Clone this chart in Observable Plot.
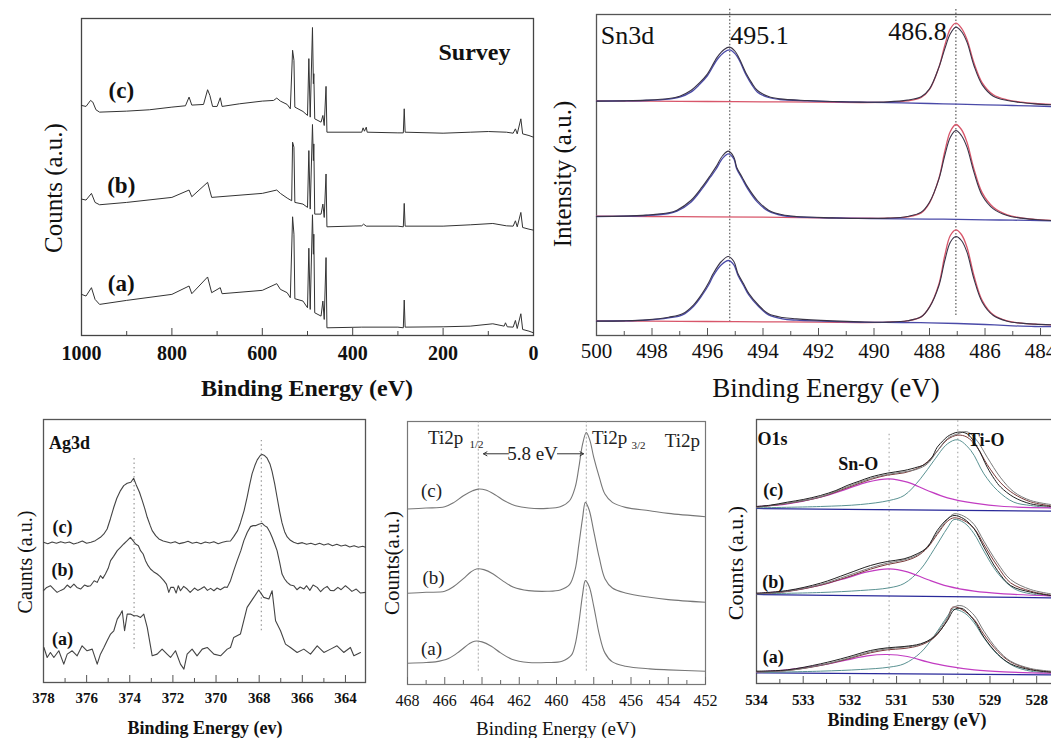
<!DOCTYPE html>
<html><head><meta charset="utf-8">
<script src="https://cdn.jsdelivr.net/npm/d3@7"></script>
<script src="https://cdn.jsdelivr.net/npm/@observablehq/plot@0.6"></script>
<style>html,body{margin:0;padding:0;overflow:hidden;background:#fff}#wrap{position:relative;width:1051px;height:738px;overflow:hidden;background:#fff}</style>
</head><body><div id="wrap"></div>
<script>
// ---------- DATA: [binding energy (eV), counts (a.u.)] ----------
// Survey
const surveyC = [[1000,688],[990,685],[980,703],[975,698],[968,675],[960,668],[900,671],[850,675],[800,683],[770,687],[762,713],[756,689],[730,691],[721,735],[716,718],[710,685],[700,685],[693,711],[689,685],[650,693],[600,701],[575,703],[568,710],[560,701],[545,691],[538,678],[533,853],[530,823],[528,683],[510,670],[500,658],[497,828],[494,653],[489,921],[487,753],[486,783],[484,648],[470,638],[466,658],[463,628],[459,745],[457,608],[380,608],[377,621],[374,611],[370,623],[368,608],[300,606],[288,606],[286,678],[284,608],[200,605],[140,608],[100,610],[60,608],[45,605],[40,618],[36,603],[28,648],[24,603],[10,598],[0,593]];
const surveyB = [[1000,408],[990,405],[978,425],[970,398],[960,391],[900,398],[800,413],[762,435],[756,415],[721,458],[712,413],[600,425],[568,435],[560,425],[545,411],[535,403],[533,578],[530,563],[528,398],[510,393],[500,383],[497,553],[494,378],[489,631],[487,523],[486,573],[484,363],[470,363],[466,393],[463,353],[459,483],[457,325],[380,328],[376,333],[370,327],[300,327],[288,325],[286,395],[284,327],[200,327],[140,331],[90,335],[60,328],[45,327],[40,343],[36,325],[28,368],[24,323],[10,318],[0,315]];
const surveyA = [[1000,123],[990,118],[978,143],[970,108],[960,93],[900,105],[800,123],[762,148],[756,125],[721,175],[712,128],[693,143],[689,125],[600,135],[568,155],[560,138],[545,128],[538,113],[533,355],[530,303],[528,110],[510,103],[500,83],[497,261],[494,78],[489,361],[487,243],[486,303],[484,68],[470,58],[466,103],[463,48],[459,233],[457,23],[380,25],[300,25],[288,23],[286,106],[284,25],[200,26],[140,28],[90,35],[65,28],[62,38],[58,26],[45,25],[40,45],[36,21],[28,65],[24,18],[10,13],[0,8]];
const surveyTicks = [1000,800,600,400,200,0];
const surveyMinor = [900,700,500,300,100];
const surveyLabels = [{x:912,y:733,t:"(c)"},{x:912,y:448,t:"(b)"},{x:912,y:154,t:"(a)"}];

// Sn3d
const snTopExp = [[500,703],[499,704],[498.2,706],[497.4,711],[497,718],[496.6,735],[496.3,757],[496.0,785],[495.65,835],[495.4,858],[495.2,865],[495.0,852],[494.85,830],[494.6,785],[494.4,757],[494.2,735],[493.8,717],[493.4,710],[492.4,705],[491.5,702],[490.5,700],[489.5,701],[488.8,706],[488.3,716],[488.0,740],[487.66,805],[487.45,860],[487.25,905],[487.05,925],[486.85,912],[486.65,880],[486.4,810],[486.1,752],[485.7,718],[485.2,705],[484.7,699],[484.2,695],[483.6,692]];
const snTopBlue = [[500,703],[499,704],[498.2,705],[497.4,709],[497,715],[496.6,730],[496.3,752],[496.0,780],[495.65,828],[495.4,850],[495.2,857],[495.0,845],[494.85,825],[494.6,780],[494.4,752],[494.2,730],[493.8,714],[493.4,708],[492.4,704],[491,701],[489,698],[487.5,695],[486,692],[485,690],[483.6,687]];
const snTopRed = [[500,704],[498,703],[496,702],[494,701],[492,700],[490.5,699],[489.5,700],[488.8,704],[488.3,714],[488.0,738],[487.66,805],[487.45,870],[487.25,920],[487.05,937],[486.85,922],[486.65,888],[486.4,818],[486.1,758],[485.7,722],[485.2,707],[484.7,700],[484.2,696],[483.6,693]];
const snMidExp = [[500,357],[499,358],[498.2,361],[497.4,368],[497.1,376],[496.6,405],[496.2,445],[495.9,480],[495.7,505],[495.45,540],[495.25,553],[495.05,535],[494.95,505],[494.75,475],[494.55,445],[494.2,405],[493.8,376],[493.3,362],[492.8,357],[491.5,353],[490.5,351],[489.5,352],[488.8,357],[488.3,370],[488.0,400],[487.66,470],[487.45,540],[487.25,595],[487.05,615],[486.85,600],[486.65,565],[486.4,490],[486.1,420],[485.7,380],[485.2,360],[484.7,352],[484.2,348],[483.6,345]];
const snMidBlue = [[500,357],[499,358],[498.2,360],[497.4,366],[497.1,373],[496.6,400],[496.2,440],[495.9,475],[495.7,498],[495.45,532],[495.25,545],[495.05,530],[494.95,500],[494.75,470],[494.55,440],[494.2,400],[493.8,373],[493.3,360],[492.8,356],[491,352],[489,350],[487.5,349],[486,347],[485,346],[483.6,344]];
const snMidRed = [[500,358],[498,357],[496,356],[494,355],[492,353],[490.5,352],[489.5,352],[488.8,356],[488.3,368],[488.0,398],[487.66,472],[487.45,552],[487.25,612],[487.05,633],[486.85,618],[486.65,580],[486.4,500],[486.1,428],[485.7,385],[485.2,362],[484.7,353],[484.2,348],[483.6,345]];
const snBotExp = [[500,43],[499,44],[498.2,47],[497.4,55],[496.9,65],[496.5,92],[496.2,125],[495.95,160],[495.8,185],[495.5,222],[495.25,237],[495.05,222],[494.9,185],[494.7,155],[494.5,125],[494.15,90],[493.8,65],[493.3,54],[492.8,50],[491.5,44],[490.5,41],[489.5,40],[488.8,44],[488.3,56],[488.0,85],[487.66,150],[487.45,225],[487.25,280],[487.05,297],[486.85,285],[486.65,250],[486.4,170],[486.1,100],[485.7,60],[485.2,43],[484.7,37],[484.2,34],[483.6,32]];
const snBotBlue = [[500,43],[499,44],[498.2,46],[497.4,53],[496.9,62],[496.5,88],[496.2,120],[495.95,153],[495.8,178],[495.5,212],[495.25,225],[495.05,212],[494.9,180],[494.7,150],[494.5,120],[494.15,86],[493.8,62],[493.3,50],[492.8,46],[491,41],[489,39],[488,38],[487,36],[486,33],[485,29],[484.2,27],[483.6,27]];
const snBotRed = [[500,44],[498,43],[496,42],[494,41],[492,40],[490.5,39],[489.5,40],[488.8,44],[488.3,56],[488.0,86],[487.66,155],[487.45,240],[487.25,300],[487.05,317],[486.85,303],[486.65,265],[486.4,180],[486.1,105],[485.7,62],[485.2,44],[484.7,37],[484.2,34],[483.6,32]];
const snTicks = [500,498,496,494,492,490,488,486,484];
const snMinor = [499,497,495,493,491,489,487,485];
const snGuides = [{x:495.2,y1:40,y2:983},{x:487.05,y1:60,y2:983}];
const snLabels = [{x:498.88,y:900,t:"Sn3d"},{x:494.13,y:900,t:"495.1"},{x:488.43,y:912,t:"486.8"}];

// Ag3d
const agC = [[378,420],[377.8,416],[377.6,421],[377.4,417],[377.2,422],[377,418],[376.8,421],[376.6,415],[376.4,419],[376.2,424],[376,417],[375.8,420],[375.6,425],[375.36,435],[375.2,445],[375.05,460],[374.9,490],[374.74,525],[374.6,552],[374.43,575],[374.28,590],[374.12,597],[373.95,600],[373.82,612],[373.7,592],[373.55,570],[373.42,545],[373.3,520],[373.19,495],[373.05,470],[372.96,455],[372.8,440],[372.65,430],[372.45,424],[372.27,421],[372.1,418],[371.9,422],[371.7,416],[371.5,419],[371.3,423],[371.1,417],[370.9,420],[370.7,416],[370.5,421],[370.3,418],[370.1,422],[369.9,416],[369.7,420],[369.5,423],[369.33,424],[369.18,437],[369.0,455],[368.87,478],[368.7,515],[368.56,555],[368.45,590],[368.33,625],[368.2,650],[368.09,667],[367.95,680],[367.86,683],[367.75,680],[367.63,672],[367.5,655],[367.4,632],[367.28,595],[367.17,555],[367.05,512],[366.94,478],[366.82,452],[366.7,436],[366.55,426],[366.4,420],[366.2,416],[366,419],[365.8,414],[365.6,417],[365.4,413],[365.2,417],[365,412],[364.8,416],[364.6,410],[364.4,414],[364.2,409],[364,412],[363.8,406],[363.6,410],[363.4,405],[363.2,408],[363.07,405]];
const agB = [[378,275],[377.85,285],[377.68,290],[377.5,278],[377.37,270],[377.2,276],[377.06,280],[376.9,292],[376.75,284],[376.59,295],[376.45,285],[376.28,280],[376.1,292],[375.95,288],[375.82,290],[375.65,305],[375.51,300],[375.36,320],[375.25,312],[375.13,325],[375.0,342],[374.89,365],[374.75,378],[374.58,395],[374.43,405],[374.28,415],[374.12,425],[373.97,435],[373.85,425],[373.73,415],[373.6,410],[373.5,395],[373.38,385],[373.27,365],[373.15,350],[373.04,340],[372.9,332],[372.73,325],[372.6,318],[372.42,305],[372.3,295],[372.19,270],[372.1,285],[371.96,285],[371.85,268],[371.75,290],[371.65,275],[371.5,288],[371.34,280],[371.2,270],[371.0,283],[370.85,276],[370.72,280],[370.55,287],[370.4,276],[370.25,282],[370.1,275],[369.95,283],[369.8,278],[369.6,286],[369.48,285],[369.33,305],[369.18,335],[369.02,365],[368.85,395],[368.71,425],[368.55,450],[368.4,467],[368.28,470],[368.17,470],[368.02,474],[367.86,477],[367.75,470],[367.63,465],[367.5,450],[367.4,435],[367.28,415],[367.17,395],[367.05,360],[366.94,325],[366.82,310],[366.7,300],[366.55,292],[366.4,290],[366.25,278],[366.1,286],[365.93,280],[365.8,290],[365.65,276],[365.5,292],[365.31,285],[365.15,272],[365.0,282],[364.85,288],[364.7,276],[364.54,275],[364.35,285],[364.2,278],[364.0,290],[363.85,282],[363.7,273],[363.5,280],[363.3,268],[363.07,270]];
const agA = [[377.98,105],[377.83,75],[377.68,90],[377.52,75],[377.29,95],[377.06,55],[376.9,85],[376.67,95],[376.44,80],[376.21,110],[375.98,95],[375.74,100],[375.51,55],[375.36,85],[375.2,105],[375.05,125],[374.89,145],[374.74,155],[374.58,190],[374.43,205],[374.35,215],[374.24,155],[374.12,205],[373.97,205],[373.81,200],[373.66,200],[373.5,195],[373.35,205],[373.19,165],[372.96,80],[372.73,85],[372.5,100],[372.27,85],[372.11,75],[371.88,95],[371.65,55],[371.49,40],[371.34,85],[371.11,100],[370.88,80],[370.64,100],[370.41,105],[370.1,85],[369.79,80],[369.48,100],[369.33,105],[369.18,135],[368.87,145],[368.56,225],[368.25,255],[368.02,277],[367.79,255],[367.55,250],[367.4,275],[367.24,185],[367.01,155],[366.78,115],[366.55,105],[366.24,90],[365.93,100],[365.62,85],[365.31,110],[365.0,90],[364.69,100],[364.39,110],[364.08,90],[363.77,105],[363.61,80],[363.3,90]];
const agTicks = [378,376,374,372,370,368,366,364];
const agMinor = [377,375,373,371,369,367,365];
const agGuides = [{x:373.8,y1:100,y2:680},{x:367.9,y1:155,y2:725}];
const agLabels = [{x:376.8,y:716,t:"Ag3d"},{x:377.12,y:464,t:"(c)"},{x:377.12,y:335,t:"(b)"},{x:377.12,y:131,t:"(a)"}];

// Ti2p
const tiC = [[468,527],[467,530],[466,534],[465.5,547],[465,567],[464.5,582],[464.2,587],[463.8,584],[463.3,570],[462.8,552],[462.2,537],[461.5,530],[460.5,529],[459.8,534],[459.3,552],[459.0,592],[458.8,652],[458.6,722],[458.4,757],[458.2,732],[458.0,682],[457.7,622],[457.4,572],[457.0,547],[456.3,532],[455,522],[454,514],[452,504]];
const tiB = [[468,274],[467,277],[466,280],[465.5,295],[465,318],[464.6,338],[464.3,347],[463.9,345],[463.4,332],[462.9,312],[462.3,292],[461.5,282],[460.5,280],[459.8,284],[459.3,300],[459.0,345],[458.8,420],[458.6,500],[458.45,547],[458.25,525],[458.0,460],[457.7,380],[457.4,318],[457.0,290],[456.3,275],[455,262],[454,255],[452,247]];
const tiA = [[468,64],[467,66],[466.5,68],[465.8,78],[465.2,100],[464.7,122],[464.4,130],[464.0,128],[463.5,115],[463.0,95],[462.4,76],[461.5,66],[460.5,66],[459.7,70],[459.2,88],[459.0,120],[458.8,185],[458.6,270],[458.45,312],[458.25,295],[458.0,235],[457.7,150],[457.4,95],[457.0,68],[456.3,55],[455,47],[454,44],[452,40]];
const tiTicks = [468,466,464,462,460,458,456,454,452];
const tiMinor = [467,465,463,461,459,457,455,453];
const tiGuides = [{x:464.2,y1:40,y2:788},{x:458.4,y1:40,y2:788}];
const tiLabels = [{x:466.71,y:582,t:"(c)"},{x:466.6,y:321,t:"(b)"},{x:466.71,y:108,t:"(a)"},{x:465.95,y:741,t:"Ti2p"},{x:457.15,y:741,t:"Ti2p"},{x:453.24,y:732,t:"Ti2p"},{x:461.29,y:693,t:"5.8 eV"}];
const tiSubs = [{x:464.3,y:720,t:"1/2"},{x:455.6,y:717,t:"3/2"}];
const tiArrows = [{x1:462.58,x2:463.92,y:693},{x1:459.95,x2:458.55,y:693}];

// O1s
const oCExp = [[534,534],[533.7,538],[533.34,547],[533,555],[532.63,567],[532.3,582],[532.06,597],[531.8,610],[531.56,622],[531.2,634],[530.84,642],[530.56,652],[530.4,660],[530.25,680],[530.13,712],[530.0,732],[529.91,744],[529.69,757],[529.49,752],[529.27,712],[529.06,652],[528.9,615],[528.77,592],[528.49,562],[528.13,542],[527.7,534]];
const oCGray = [[534,532],[533.34,544],[532.63,563],[532.06,593],[531.56,618],[531.2,630],[530.84,638],[530.56,646],[530.34,662],[530.13,700],[529.91,738],[529.69,752],[529.49,758],[529.27,730],[529.06,682],[528.77,620],[528.49,578],[528.13,552],[527.7,540]];
const oCEnv = [[534,532],[533.34,543],[532.63,562],[532.06,590],[531.56,615],[531.2,628],[530.84,635],[530.56,648],[530.34,668],[530.13,700],[529.91,735],[529.69,748],[529.49,742],[529.27,710],[529.06,660],[528.77,605],[528.49,572],[528.13,548],[527.7,536]];
const oCSnO = [[534,534],[533.34,542],[532.63,562],[532.06,587],[531.63,607],[531.16,617],[530.77,607],[530.34,582],[529.91,560],[529.34,544],[528.7,534],[527.7,530]];
const oCTiO = [[534,530],[532.63,534],[531.77,540],[531.16,552],[530.84,567],[530.49,617],[530.2,672],[529.91,722],[529.69,734],[529.41,702],[529.13,632],[528.84,582],[528.49,547],[528.13,537],[527.7,530]];
const oCBase = [[534,528],[527.7,520]];
const oBExp = [[534,274],[533.34,282],[532.63,304],[532.06,332],[531.56,357],[531.2,369],[530.84,377],[530.56,392],[530.34,412],[530.13,462],[529.91,497],[529.77,507],[529.56,497],[529.34,467],[529.13,412],[528.84,342],[528.56,297],[528.13,277],[527.7,267]];
const oBGray = [[534,272],[533.34,280],[532.63,300],[532.06,326],[531.56,350],[531.2,364],[530.84,374],[530.56,388],[530.34,414],[530.13,455],[529.91,495],[529.77,512],[529.56,505],[529.34,480],[529.13,430],[528.84,365],[528.56,315],[528.13,285],[527.7,272]];
const oBEnv = [[534,272],[533.34,279],[532.63,298],[532.06,322],[531.56,346],[531.2,360],[530.84,370],[530.56,385],[530.34,410],[530.13,450],[529.91,490],[529.77,500],[529.56,492],[529.34,468],[529.13,420],[528.84,355],[528.56,305],[528.13,280],[527.7,268]];
const oBSnO = [[534,273],[533.34,280],[532.63,298],[532.06,320],[531.63,338],[531.16,347],[530.77,338],[530.34,315],[529.91,295],[529.34,280],[528.7,272],[527.7,266]];
const oBTiO = [[534,272],[532.63,276],[531.77,282],[531.16,290],[530.84,303],[530.49,345],[530.2,405],[529.91,470],[529.77,495],[529.55,485],[529.34,452],[529.13,400],[528.84,335],[528.49,288],[528.13,272],[527.7,266]];
const oBBase = [[534,270],[527.7,260]];
const oAExp = [[534,40],[533.34,44],[532.63,62],[532.06,82],[531.56,102],[531.2,110],[530.84,114],[530.49,122],[530.2,142],[529.91,192],[529.77,224],[529.6,228],[529.34,192],[529.13,142],[528.84,92],[528.56,62],[528.13,44],[527.7,37]];
const oAGray = [[534,38],[533.34,42],[532.63,58],[532.06,78],[531.56,98],[531.2,107],[530.84,112],[530.49,120],[530.2,145],[529.91,200],[529.77,232],[529.6,236],[529.34,208],[529.13,160],[528.84,105],[528.56,70],[528.13,48],[527.7,40]];
const oAEnv = [[534,38],[533.34,42],[532.63,57],[532.06,76],[531.56,95],[531.2,104],[530.84,108],[530.49,118],[530.2,140],[529.91,195],[529.8,232],[529.6,225],[529.34,195],[529.13,150],[528.84,100],[528.56,68],[528.13,46],[527.7,38]];
const oASnO = [[534,38],[533.34,44],[532.63,58],[532.06,74],[531.63,86],[531.2,90],[530.77,84],[530.34,68],[529.91,55],[529.34,44],[528.7,38],[527.7,34]];
const oATiO = [[534,36],[532.63,40],[531.77,45],[531.16,52],[530.84,62],[530.49,95],[530.2,145],[529.91,205],[529.8,225],[529.55,215],[529.34,185],[529.13,140],[528.84,90],[528.49,55],[528.13,40],[527.7,34]];
const oABase = [[534,35],[527.7,29]];
const oTicks = [534,533,532,531,530,529,528];
const oMinor = [533.5,532.5,531.5,530.5,529.5,528.5,527.5];
const oGuides = [{x:531.16,y1:17,y2:757},{x:529.69,y1:17,y2:792}];
const oLabels = [{x:533.66,y:737,t:"O1s"},{x:531.82,y:662,t:"Sn-O"},{x:529.08,y:732,t:"Ti-O"},{x:533.64,y:582,t:"(c)"},{x:533.64,y:307,t:"(b)"},{x:533.64,y:82,t:"(a)"}];

// ---------- RENDERING ----------
const SERIF = "'Liberation Serif','Times New Roman','DejaVu Serif',serif";
const wrap = document.getElementById("wrap");

function panel(o) {
  const svg = Plot.plot({
    width: o.width, height: o.height,
    marginLeft: o.ml, marginRight: o.mr, marginTop: o.mt, marginBottom: o.mb,
    x: {domain: o.xd, axis: null}, y: {domain: o.yd, axis: null},
    style: {background: "transparent", overflow: "visible", fontFamily: SERIF},
    marks: o.marks
  });
  svg.style.position = "absolute";
  svg.style.left = o.left + "px";
  svg.style.top = o.top + "px";
  wrap.appendChild(svg);
}
function axisMarks(major, minor, innerH, dy, font, color) {
  return [
    Plot.ruleX(minor, {x: d => d, insetTop: innerH - 4, stroke: color, strokeWidth: 1}),
    Plot.ruleX(major, {x: d => d, insetTop: innerH - 7, stroke: color, strokeWidth: 1}),
    Plot.text(major, {x: d => d, frameAnchor: "bottom", dy, text: d => String(d), lineAnchor: "middle",
      fontFamily: SERIF, fontSize: font.size, fontWeight: font.weight, fill: "#111"})
  ];
}
const L = (data, stroke, w = 1, curve = "catmull-rom") =>
  Plot.line(data, {x: d => d[0], y: d => d[1], stroke, strokeWidth: w, curve});
function label(text, cx, cy, size, weight = "normal", rotate = 0) {
  const d = document.createElement("div");
  d.textContent = text;
  Object.assign(d.style, {position: "absolute", left: cx + "px", top: cy + "px",
    transform: `translate(-50%,-50%) rotate(${rotate}deg)`, fontFamily: SERIF,
    fontSize: size + "px", fontWeight: weight, whiteSpace: "nowrap", color: "#111", lineHeight: "1"});
  wrap.appendChild(d);
}

// Survey
panel({left: 0, top: 0, width: 545, height: 410, ml: 81, mr: 12, mt: 18, mb: 75,
  xd: [1000, 0], yd: [0, 948],
  marks: [
    Plot.frame({stroke: "#444", strokeWidth: 1.3}),
    ...axisMarks(surveyTicks, surveyMinor, 317, 18, {size: 20, weight: "bold"}, "#444"),
    L(surveyC, "#333", 1, "linear"), L(surveyB, "#333", 1, "linear"), L(surveyA, "#333", 1, "linear"),
    Plot.text(surveyLabels, {x: "x", y: "y", text: "t", fontSize: 23, fontWeight: "bold", fontFamily: SERIF, fill: "#111"}),
    Plot.text([{x: 130.5, y: 847, t: "Survey"}], {x: "x", y: "y", text: "t", fontSize: 24, fontWeight: "bold", fontFamily: SERIF, fill: "#111"})
  ]});
label("Counts (a.u.)", 53, 188, 25, "normal", -90);
label("Binding Energy (eV)", 307, 388, 24, "bold");

// Sn3d
const snBlue = "#4a4aa8", snRed = "#d8566a", snExp = "#3a3448";
panel({left: 540, top: 0, width: 530, height: 410, ml: 56, mr: 10, mt: 14, mb: 75,
  xd: [500, 483.28], yd: [0, 963],
  marks: [
    Plot.frame({stroke: "#555", strokeWidth: 1.3}),
    ...axisMarks(snTicks, snMinor, 321, 16, {size: 21, weight: "normal"}, "#555"),
    Plot.ruleX(snGuides, {x: "x", y1: "y1", y2: "y2", stroke: "#666", strokeWidth: 1.3, strokeDasharray: "1.5,2"}),
    L(snTopRed, snRed, 1.3), L(snTopBlue, snBlue, 1.3), L(snTopExp, snExp, 1.1),
    L(snMidRed, snRed, 1.3), L(snMidBlue, snBlue, 1.3), L(snMidExp, snExp, 1.1),
    L(snBotRed, snRed, 1.3), L(snBotBlue, snBlue, 1.3), L(snBotExp, snExp, 1.1),
    Plot.text(snLabels, {x: "x", y: "y", text: "t", fontSize: 26, fontFamily: SERIF, fill: "#111"})
  ]});
label("Intensity (a.u.)", 562, 174, 25, "normal", -90);
label("Binding Energy (eV)", 826, 388, 27);

// Ag3d
panel({left: 0, top: 400, width: 375, height: 338, ml: 43, mr: 10, mt: 19, mb: 56,
  xd: [378, 363.07], yd: [0, 788],
  marks: [
    Plot.frame({stroke: "#555", strokeWidth: 1.3}),
    ...axisMarks(agTicks, agMinor, 263, 16, {size: 15, weight: "bold"}, "#555"),
    Plot.ruleX(agGuides, {x: "x", y1: "y1", y2: "y2", stroke: "#999", strokeWidth: 1.2, strokeDasharray: "1.5,3"}),
    L(agC, "#444", 1.1, "linear"), L(agB, "#444", 1.1, "linear"), L(agA, "#444", 1.1, "linear"),
    Plot.text(agLabels, {x: "x", y: "y", text: "t", fontSize: 18, fontWeight: "bold", fontFamily: SERIF, fill: "#111"})
  ]});
label("Caunts (a.u.)", 25, 562, 20, "normal", -90);
label("Binding Energy (ev)", 205, 728, 18, "bold");

// Ti2p
panel({left: 370, top: 400, width: 345, height: 338, ml: 37, mr: 10, mt: 21, mb: 54,
  xd: [468, 452], yd: [0, 790],
  marks: [
    Plot.frame({stroke: "#777", strokeWidth: 1.2}),
    ...axisMarks(tiTicks, tiMinor, 263, 16, {size: 16, weight: "normal"}, "#666"),
    Plot.ruleX(tiGuides, {x: "x", y1: "y1", y2: "y2", stroke: "#aaa", strokeWidth: 1, strokeDasharray: "2,2"}),
    L(tiC, "#777", 1.1), L(tiB, "#777", 1.1), L(tiA, "#777", 1.1),
    Plot.arrow(tiArrows, {x1: "x1", x2: "x2", y1: "y", y2: "y", stroke: "#333", strokeWidth: 1, headLength: 6}),
    Plot.text(tiLabels, {x: "x", y: "y", text: "t", fontSize: 19, fontFamily: SERIF, fill: "#222"}),
    Plot.text(tiSubs, {x: "x", y: "y", text: "t", fontSize: 11, fontFamily: SERIF, fill: "#222"})
  ]});
label("Counts(a.u.)", 392, 563, 21, "normal", -90);
label("Binding Energy (eV)", 556, 728, 19);

// O1s
const oBlk = "#222", oGry = "#7a7a7a", oEnv = "#7a3b3b", oMag = "#c23cc2", oTeal = "#5a9292", oBase = "#2a2a9a";
panel({left: 730, top: 400, width: 335, height: 338, ml: 26, mr: 5, mt: 19, mb: 55,
  xd: [534, 527.49], yd: [3, 795],
  marks: [
    Plot.frame({stroke: "#555", strokeWidth: 1.3}),
    ...axisMarks(oTicks, oMinor, 264, 17, {size: 15, weight: "bold"}, "#555"),
    Plot.ruleX(oGuides, {x: "x", y1: "y1", y2: "y2", stroke: "#aaa", strokeWidth: 1.2, strokeDasharray: "1.5,3"}),
    L(oCBase, oBase, 1.2, "linear"), L(oCTiO, oTeal), L(oCSnO, oMag, 1.2), L(oCEnv, oEnv), L(oCGray, oGry), L(oCExp, oBlk),
    L(oBBase, oBase, 1.2, "linear"), L(oBTiO, oTeal), L(oBSnO, oMag, 1.2), L(oBEnv, oEnv), L(oBGray, oGry), L(oBExp, oBlk),
    L(oABase, oBase, 1.2, "linear"), L(oATiO, oTeal), L(oASnO, oMag, 1.2), L(oAEnv, oEnv), L(oAGray, oGry), L(oAExp, oBlk),
    Plot.text(oLabels, {x: "x", y: "y", text: "t", fontSize: 18, fontWeight: "bold", fontFamily: SERIF, fill: "#111"})
  ]});
label("Counts (a.u.)", 736, 563, 22, "normal", -90);
label("Binding Energy (eV)", 907, 720, 18, "bold");
</script></body></html>
